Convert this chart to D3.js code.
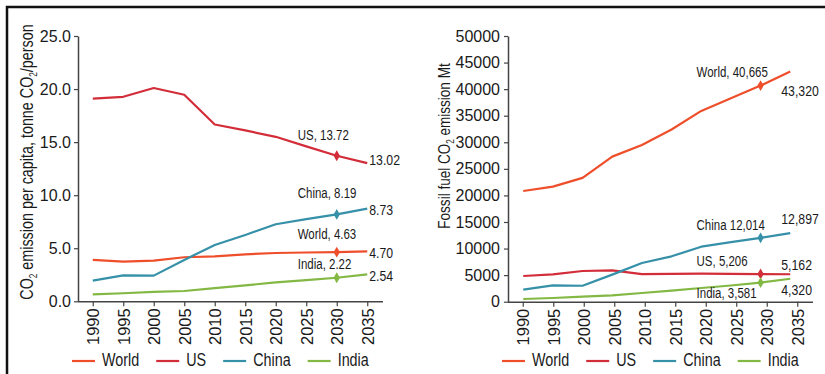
<!DOCTYPE html>
<html>
<head>
<meta charset="utf-8">
<script src="https://cdn.jsdelivr.net/npm/d3@7"></script>
<style>
  html, body { margin: 0; padding: 0; background: #fff; }
  svg { display: block; }
</style>
</head>
<body>
<svg id="chart" width="825" height="374"></svg>
<script>
// Years on the category axis
const years = [1990, 1995, 2000, 2005, 2010, 2015, 2020, 2025, 2030, 2035];

// Per-capita CO2 emission, tonne CO2 per person
const perCapWorld = [3.90, 3.74, 3.83, 4.15, 4.24, 4.43, 4.55, 4.60, 4.63, 4.70];
const perCapUS    = [19.10, 19.27, 20.10, 19.46, 16.66, 16.10, 15.50, 14.60, 13.72, 13.02];
const perCapChina = [1.95, 2.45, 2.42, 3.90, 5.31, 6.25, 7.26, 7.75, 8.19, 8.73];
const perCapIndia = [0.66, 0.76, 0.88, 0.97, 1.25, 1.50, 1.79, 2.00, 2.22, 2.54];

// Fossil fuel CO2 emission, Mt
const totalWorld = [20830, 21650, 23300, 27300, 29500, 32400, 35900, 38300, 40665, 43320];
const totalUS    = [4840, 5150, 5780, 5880, 5200, 5250, 5300, 5250, 5206, 5162];
const totalChina = [2260, 3080, 3000, 5100, 7280, 8540, 10350, 11200, 12014, 12897];
const totalIndia = [510, 700, 950, 1200, 1640, 2100, 2580, 3050, 3581, 4320];

const seriesNames = ["World", "US", "China", "India"];
const seriesColors = ["#ef4e2b", "#d22d39", "#3590a8", "#82b843"];

// Axis ticks
const leftTicks = [0, 5, 10, 15, 20, 25];
const rightTicks = [0, 5000, 10000, 15000, 20000, 25000, 30000, 35000, 40000, 45000, 50000];

// Callout texts at 2030 and end-of-line texts at 2035
const leftCallouts = ["World, 4.63", "US, 13.72", "China, 8.19", "India, 2.22"];
const leftEndLabels = ["4.70", "13.02", "8.73", "2.54"];
const rightCallouts = ["World, 40,665", "US, 5,206", "China 12,014", "India, 3,581"];
const rightEndLabels = ["43,320", "5,162", "12,897", "4,320"];

const svg = d3.select("#chart");
const FONT = "'Liberation Sans', Arial, Helvetica, sans-serif";
const SQUEEZE = 0.82; // horizontal condensing for the narrow label face

// Condensed text: a group placed (and optionally rotated), with the glyphs squeezed horizontally
function narrowText(parent, x, y, size, rotate) {
  const g = parent.append("g")
    .attr("transform", `translate(${x},${y})` + (rotate ? ` rotate(${rotate})` : ""));
  return g.append("text")
    .attr("transform", `scale(${SQUEEZE},1)`)
    .style("font-family", FONT)
    .style("font-size", size + "px")
    .attr("fill", "#1a1a1a");
}

// Frame lines along the top and left edge
svg.append("path")
  .attr("d", "M7,374V7H825")
  .attr("fill", "none")
  .attr("stroke", "#111")
  .attr("stroke-width", 2.5);

function panel(cfg) {
  const g = svg.append("g");
  const y = d3.scaleLinear().domain(cfg.yDomain).range([cfg.bottom, cfg.top]);
  const xAxisScale = d3.scalePoint().domain(years).range(cfg.xRange).padding(0.5);
  const xData = d3.scalePoint().domain(years)
    .range([xAxisScale(years[0]) + cfg.dataShift[0], xAxisScale(years[years.length - 1]) + cfg.dataShift[1]]);

  // y axis
  const ya = g.append("g")
    .attr("transform", `translate(${cfg.xRange[0] + 0.5},0)`)
    .call(d3.axisLeft(y).tickValues(cfg.yTicks).tickFormat(cfg.yFormat).tickSize(4).tickPadding(cfg.yPad).tickSizeOuter(0));
  ya.select(".domain").attr("stroke", "#444").attr("stroke-width", 1.5);
  ya.selectAll(".tick line").attr("stroke", "#444").attr("stroke-width", 1.2);
  ya.selectAll(".tick text").style("font-family", FONT).style("font-size", "16px").attr("fill", "#1a1a1a");

  // x axis with vertical year labels
  const xa = g.append("g")
    .attr("transform", `translate(0,${cfg.bottom})`)
    .call(d3.axisBottom(xAxisScale).tickSize(5).tickSizeOuter(0));
  xa.select(".domain").attr("stroke", "#444").attr("stroke-width", 1.5);
  xa.selectAll(".tick line").attr("stroke", "#444").attr("stroke-width", 1.2);
  xa.selectAll(".tick text")
    .attr("transform", "rotate(-90)")
    .attr("x", -7)
    .attr("y", 0)
    .attr("dy", "0.36em")
    .attr("text-anchor", "end")
    .attr("fill", "#1a1a1a")
    .style("font-family", FONT)
    .style("font-size", "16.5px");

  // y axis title with subscripts
  const title = narrowText(g, cfg.titleX, cfg.titleY, cfg.titleSize, -90)
    .attr("text-anchor", "middle");
  let shift = 0;
  cfg.titleParts.forEach(p => {
    const ts = title.append("tspan").text(p.t);
    if (p.sub) {
      ts.attr("dy", 4).style("font-size", "10px");
      shift = -4;
    } else if (shift) {
      ts.attr("dy", shift);
      shift = 0;
    }
  });

  // series lines
  const line = d3.line().x((d, i) => xData(years[i])).y(d => y(d));
  cfg.series.forEach((vals, s) => {
    g.append("path")
      .datum(vals)
      .attr("d", line)
      .attr("fill", "none")
      .attr("stroke", seriesColors[s])
      .attr("stroke-width", 2.2)
      .attr("stroke-linejoin", "round");
  });

  // 2030 markers with callouts, plus end values at 2035
  const mi = years.indexOf(2030);
  const ei = years.length - 1;
  cfg.series.forEach((vals, s) => {
    const mx = xData(years[mi]);
    const my = y(vals[mi]);
    g.append("path")
      .attr("d", d3.symbol(d3.symbolDiamond, 34)())
      .attr("transform", `translate(${mx},${my})`)
      .attr("fill", seriesColors[s]);
    narrowText(g, mx + cfg.calloutDx, my + cfg.calloutDy[s], 14)
      .attr("dominant-baseline", "middle")
      .text(cfg.callouts[s]);
    narrowText(g, xData(years[ei]) + cfg.endDx, y(vals[ei]) + cfg.endDy[s], 15)
      .attr("dominant-baseline", "middle")
      .text(cfg.endLabels[s]);
  });

  // legend
  let lx = cfg.legendX;
  const ly = 361;
  seriesNames.forEach((name, s) => {
    g.append("line")
      .attr("x1", lx).attr("x2", lx + 23)
      .attr("y1", ly).attr("y2", ly)
      .attr("stroke", seriesColors[s])
      .attr("stroke-width", 2.2);
    const t = narrowText(g, lx + 30, ly, 17.5)
      .attr("dominant-baseline", "middle")
      .text(name);
    lx += 30 + t.node().getComputedTextLength() * SQUEEZE + 17;
  });
}

panel({
  yDomain: [0, 25], top: 36, bottom: 301.3,
  xRange: [77.5, 382.5], dataShift: [0, 0],
  yTicks: leftTicks, yFormat: d3.format(".1f"), yPad: 3,
  series: [perCapWorld, perCapUS, perCapChina, perCapIndia],
  callouts: leftCallouts, endLabels: leftEndLabels,
  calloutDx: -39, calloutDy: [-17, -19, -20, -12],
  endDx: 2, endDy: [2.5, -2, 2, 3],
  titleX: 33, titleY: 162, titleSize: 17.5,
  titleParts: [{t: "CO"}, {t: "2", sub: true}, {t: " emission per capita, tonne CO"}, {t: "2", sub: true}, {t: "/person"}],
  legendX: 72
});

panel({
  yDomain: [0, 50000], top: 36, bottom: 301.7,
  xRange: [507.5, 812.5], dataShift: [0.5, -7],
  yTicks: rightTicks, yFormat: d3.format("d"), yPad: 4,
  series: [totalWorld, totalUS, totalChina, totalIndia],
  callouts: rightCallouts, endLabels: rightEndLabels,
  calloutDx: -64, calloutDy: [-12, -12, -12, 12],
  endDx: -9, endDy: [21, -8, -13, 12],
  titleX: 450, titleY: 146, titleSize: 16.5,
  titleParts: [{t: "Fossil fuel CO"}, {t: "2", sub: true}, {t: " emission Mt"}],
  legendX: 502
});
</script>
</body>
</html>
